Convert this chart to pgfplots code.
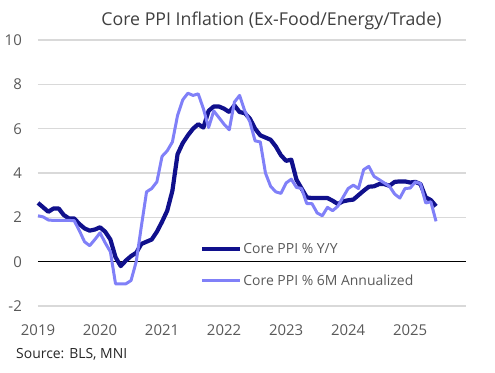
\documentclass[border=0pt]{standalone}
\usepackage{fontspec}
\setmainfont{Open Sans}
\usepackage{pgfplots}
\usepackage{pgfplotstable}
\pgfplotsset{compat=1.18}
\definecolor{darkc}{RGB}{16,16,140}
\definecolor{lightc}{RGB}{128,128,248}
\definecolor{gridc}{RGB}{217,217,217}
\definecolor{txt}{RGB}{89,89,89}
\definecolor{ttl}{RGB}{64,64,64}

\pgfplotstableread{
m yy
0 2.65
1 2.45
2 2.25
3 2.4
4 2.4
5 2.1
6 1.95
7 1.95
8 1.7
9 1.5
10 1.4
11 1.45
12 1.55
13 1.35
14 1.0
15 0.2
16 -0.2
17 0.05
18 0.25
19 0.4
20 0.8
21 0.9
22 1.0
23 1.35
24 1.8
25 2.3
26 3.2
27 4.85
28 5.35
29 5.7
30 6.0
31 6.2
32 6.05
33 6.8
34 7.0
35 7.0
36 6.9
37 6.75
38 7.05
39 6.75
40 6.7
41 6.45
42 6.0
43 5.7
44 5.6
45 5.5
46 5.2
47 4.8
48 4.55
49 4.6
50 3.7
51 3.3
52 2.9
53 2.87
54 2.87
55 2.87
56 2.87
57 2.75
58 2.6
59 2.72
60 2.77
61 2.8
62 3.0
63 3.2
64 3.38
65 3.4
66 3.5
67 3.5
68 3.42
69 3.6
70 3.62
71 3.62
72 3.57
73 3.6
74 3.5
75 2.9
76 2.78
77 2.5
}\yytable

\pgfplotstableread{
m ann
0 2.07
1 2.02
2 1.88
3 1.86
4 1.86
5 1.86
6 1.86
7 1.85
8 1.4
9 0.9
10 0.72
11 1.0
12 1.3
13 0.85
14 0.45
15 -1.0
16 -1.0
17 -1.0
18 -0.85
19 0.0
20 1.6
21 3.15
22 3.3
23 3.6
24 4.75
25 5.0
26 5.4
27 6.6
28 7.3
29 7.6
30 7.5
31 7.57
32 6.9
33 6.05
34 6.8
35 6.5
36 6.2
37 5.95
38 7.2
39 7.5
40 6.8
41 6.3
42 5.45
43 5.4
44 4.0
45 3.4
46 3.15
47 3.08
48 3.55
49 3.72
50 3.35
51 3.3
52 2.62
53 2.62
54 2.2
55 2.07
56 2.45
57 2.3
58 2.5
59 2.9
60 3.3
61 3.45
62 3.3
63 4.15
64 4.3
65 3.85
66 3.7
67 3.55
68 3.4
69 3.05
70 2.87
71 3.3
72 3.32
73 3.6
74 3.52
75 2.65
76 2.7
77 1.82
}\anntable

\begin{document}
\begin{tikzpicture}
\useasboundingbox (-38bp,-67bp) rectangle (457bp,306bp);
\begin{axis}[
  at={(0,0)}, anchor=south west,
  scale only axis, width=428bp, height=266bp,
  xmin=0, xmax=82.8, ymin=-2, ymax=10,
  axis line style={draw=none},
  major tick length=0pt,
  ytick={-2,0,2,4,6,8,10},
  yticklabels={-2,0,2,4,6,8,10},
  xtick={0,12,24,36,48,60,72},
  xticklabels={2019,2020,2021,2022,2023,2024,2025},
  ymajorgrids, grid style={gridc, line width=1.3bp},
  tick label style={text=txt, font=\fontsize{15}{18}\selectfont},
  yticklabel style={anchor=east, inner sep=0pt, xshift=-16bp},
  xticklabel style={anchor=north, inner sep=0pt, yshift=-18bp},
  clip=false,
  legend image code/.code={\draw[#1] (0bp,0bp) -- (38bp,0bp);},
  legend style={draw=none, fill=none, inner sep=0pt,
    at={(axis description cs:0.3785,0.154)}, anchor=west,
    row sep=18bp, font=\fontsize{14}{17}\selectfont, text=txt,
    nodes={inner sep=1bp}},
  legend cell align=left,
]
\addplot[black, line width=1.4bp, forget plot] coordinates {(0,0) (82.8,0)};
\addplot[darkc, line width=4.2bp, line join=round] table[x=m, y=yy] {\yytable};
\addlegendentry{Core PPI \% Y/Y}
\addplot[lightc, line width=3bp, line join=round] table[x=m, y=ann] {\anntable};
\addlegendentry{Core PPI \% 6M Annualized}
\end{axis}
\node[font=\fontsize{17.8}{21}\selectfont, text=ttl] at (233.5bp,285bp) {Core PPI Inflation (Ex-Food/Energy/Trade)};
\node[anchor=west, inner sep=0pt, font=\fontsize{14}{17}\selectfont, text=black!85] at (-22bp,-48bp) {Source: BLS, MNI};
\end{tikzpicture}
\end{document}
